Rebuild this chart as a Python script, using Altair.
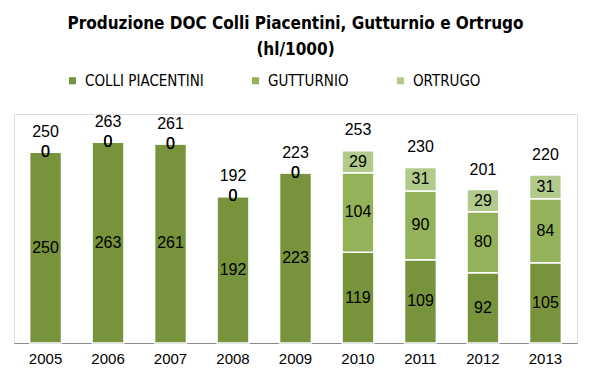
import altair as alt
import pandas as pd

years = ["2005", "2006", "2007", "2008", "2009", "2010", "2011", "2012", "2013"]
series = ["COLLI PIACENTINI", "GUTTURNIO", "ORTRUGO"]
colli = [250, 263, 261, 192, 223, 119, 109, 92, 105]
gutturnio = [0, 0, 0, 0, 0, 104, 90, 80, 84]
ortrugo = [0, 0, 0, 0, 0, 29, 31, 29, 31]
totals = [250, 263, 261, 192, 223, 253, 230, 201, 220]
colors = ["#77933C", "#94B25A", "#B2CB8C"]

rows = []
for i, y in enumerate(years):
    for k, (s, vals) in enumerate(zip(series, [colli, gutturnio, ortrugo])):
        rows.append({"year": y, "series": s, "value": vals[i], "ord": k})
df = pd.DataFrame(rows)
tot_df = pd.DataFrame({"year": years, "total": totals})

narrow = "Liberation Sans Narrow, DejaVu Sans Condensed, sans-serif"
num_font = "Liberation Sans, Arial, sans-serif"

xenc = alt.X(
    "year:N",
    sort=years,
    scale=alt.Scale(paddingInner=0.49, paddingOuter=0.25),
    axis=alt.Axis(title=None, labelAngle=0, ticks=False, labelPadding=8,
                  labelFontSize=15, labelFont=num_font, labelColor="#000",
                  domainColor="#8c8c8c", domainWidth=1.2),
)
yscale = alt.Scale(domain=[0, 300])

bars = alt.Chart(df).mark_bar(stroke="white", strokeWidth=1.5).encode(
    x=xenc,
    y=alt.Y("value:Q", stack="zero", scale=yscale, axis=None),
    color=alt.Color(
        "series:N",
        scale=alt.Scale(domain=series, range=colors),
        legend=alt.Legend(
            title=None, orient="none", direction="horizontal",
            legendX=51, legendY=-41, symbolType="square", symbolSize=50,
            symbolStrokeWidth=0, labelFont=narrow, labelFontSize=15,
            labelColor="#000", columnPadding=44, labelOffset=5,
        ),
    ),
    order=alt.Order("ord:Q"),
)

seg_text = alt.Chart(df).transform_stack(
    stack="value", groupby=["year"], as_=["v0", "v1"], sort=[alt.SortField("ord")]
).transform_calculate(mid="(datum.v0 + datum.v1) / 2").mark_text(
    fontSize=16, font=num_font, color="#000"
).encode(
    x=alt.X("year:N", sort=years),
    y=alt.Y("mid:Q", scale=yscale),
    text=alt.Text("value:Q"),
)

tot_text = alt.Chart(tot_df).mark_text(
    fontSize=16, font=num_font, color="#000", dy=-20
).encode(
    x=alt.X("year:N", sort=years),
    y=alt.Y("total:Q", scale=yscale),
    text=alt.Text("total:Q"),
)

chart = alt.layer(bars, seg_text, tot_text).properties(
    width=563,
    height=229,
    title=alt.TitleParams(
        ["Produzione DOC Colli Piacentini, Gutturnio e Ortrugo", "(hl/1000)"],
        font=narrow, fontSize=17, fontWeight="bold", color="#000",
        anchor="middle", offset=14, lineHeight=26,
    ),
    autosize=alt.AutoSizeParams(type="none"),
    padding={"left": 6, "top": 106, "right": 15, "bottom": 30},
).configure_view(stroke=None).configure(background="white")

chart.save("out.html", embed_options={"renderer": "svg", "actions": False})
